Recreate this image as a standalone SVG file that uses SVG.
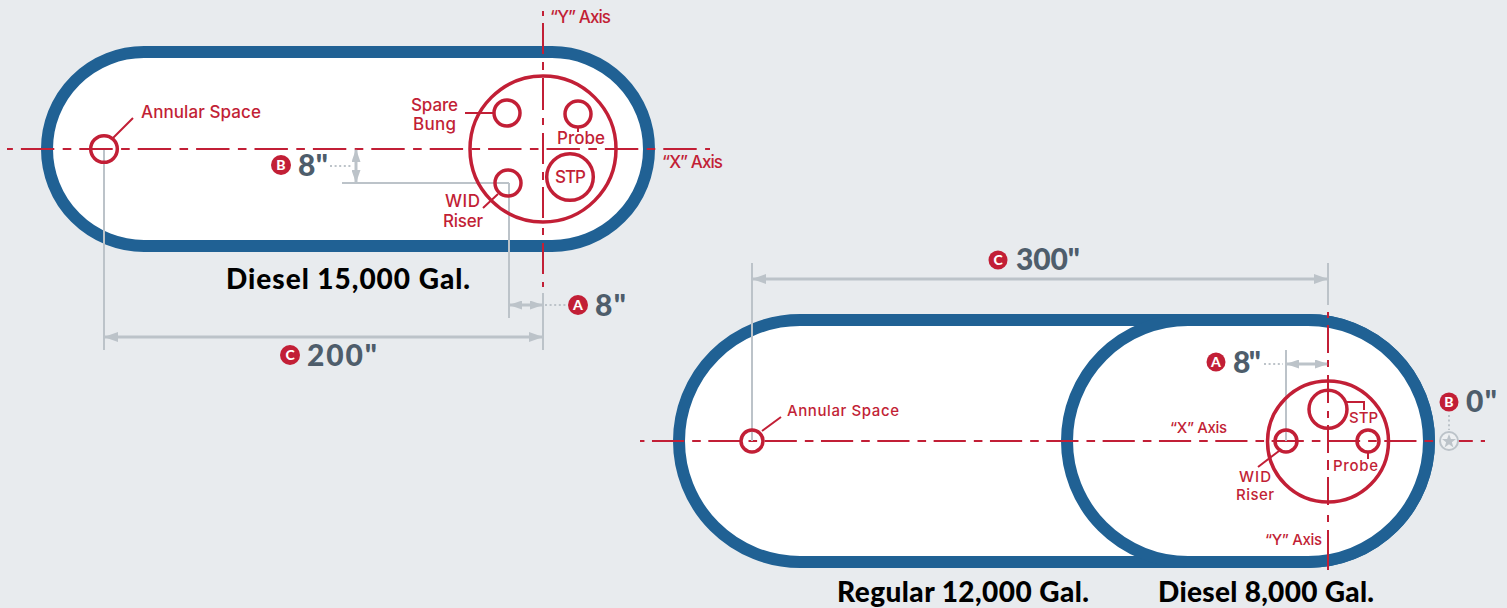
<svg xmlns="http://www.w3.org/2000/svg" width="1507" height="608" viewBox="0 0 1507 608">
<defs>
<style>
.tank{fill:#fff;stroke:#206194;stroke-width:12}
.ring{fill:none;stroke:#c21f36;stroke-width:3.5}
.axis{fill:none;stroke:#c21f36;stroke-width:2}
.lead{fill:none;stroke:#c21f36;stroke-width:2}
.dim{fill:none;stroke:#bcc3c9;stroke-width:2}
.arr{fill:none;stroke:#bcc3c9;stroke-width:3}
.dot{fill:none;stroke:#bcc3c9;stroke-width:2;stroke-dasharray:2 2.6}
.lab{font-family:"Inter","Liberation Sans",sans-serif;fill:#c21f36;font-size:17px;font-weight:500}
.lab2{font-size:15px}
.val{font-family:"Lato","Liberation Sans",sans-serif;fill:#4e5d6b;font-size:30px;font-weight:900}
.ttl{font-family:"Lato","Liberation Sans",sans-serif;fill:#000;font-size:28px;font-weight:900}
.bdg{fill:#c21f36}
.bl{font-family:"Lato","Liberation Sans",sans-serif;fill:#fff;font-size:14px;font-weight:900;text-anchor:middle}
</style>
<marker id="ah" viewBox="0 0 14 10" refX="13" refY="5" markerWidth="14" markerHeight="10" markerUnits="userSpaceOnUse" orient="auto-start-reverse"><path d="M0 0L14 5L0 10Z" fill="#bcc3c9"/></marker>
<marker id="ahs" viewBox="0 0 13 9" refX="12" refY="4.5" markerWidth="13" markerHeight="9" markerUnits="userSpaceOnUse" orient="auto-start-reverse"><path d="M0 0L13 4.5L0 9Z" fill="#bcc3c9"/></marker>
</defs>
<rect width="1507" height="608" fill="#e8ebee"/>

<g id="tank-diesel-15000">
<rect class="tank" x="47" y="52" width="602" height="194" rx="97"/>
<text class="ttl" x="226" y="289" textLength="244" lengthAdjust="spacing">Diesel 15,000 Gal.</text>
</g>
<g id="tank-regular-12000">
<rect class="tank" x="679" y="320" width="750" height="242" rx="121"/>
<text class="ttl" x="837" y="602" textLength="252" lengthAdjust="spacing">Regular 12,000 Gal.</text>
</g>
<g id="tank-diesel-8000">
<rect class="tank" x="1067" y="320" width="362" height="242" rx="121"/>
<text class="ttl" x="1158" y="602" textLength="216" lengthAdjust="spacing">Diesel 8,000 Gal.</text>
</g>

<g id="connectors">
<path class="axis" d="M7 149H710" stroke-dasharray="33.4 8.4 8.6 8" stroke-dashoffset="44.5"/>
<path class="axis" d="M543 11V16M543 23V54M543 62V70M543 78V110M543 118V125M543 133V164M543 172V180M543 187V218M543 228V235M543 243V274M543 282V287"/>
<path class="axis" d="M640 441H1485" stroke-dasharray="32.2 8 8.6 7.53" stroke-dashoffset="44.35"/>
<path class="axis" d="M1328 312V318M1328 325V353M1328 360V367M1328 375V403M1328 411V418M1328 425V453M1328 460V470M1328 477V505M1328 515V522M1328 530V570"/>
<path class="lead" d="M113 138L133 118M465 113H494M578 127V132M498 194L483 208"/>
<path class="lead" d="M762 431L781 417M1347 402H1364V410M1368 453V459M1279 451L1258 467"/>
<path class="dim" d="M104 150V350M543 293V350M509 183V318M342 183H509M752 263V441M1328 263V305M1286 350V441"/>
<path class="arr" d="M105 337H542" marker-start="url(#ah)" marker-end="url(#ah)"/>
<path class="arr" d="M753 279H1327" marker-start="url(#ah)" marker-end="url(#ah)"/>
<path class="arr" d="M510 305H542" marker-start="url(#ahs)" marker-end="url(#ahs)"/>
<path class="arr" d="M356 150V182" marker-start="url(#ahs)" marker-end="url(#ahs)"/>
<path class="arr" d="M1287 364H1327" marker-start="url(#ahs)" marker-end="url(#ahs)"/>
<path class="dot" d="M545 305H566M330 166H351M1264 364H1283M1449 415V430"/>
</g>

<g id="fittings-1">
<circle class="ring" cx="543" cy="149" r="73"/>
<circle class="ring" cx="507" cy="113" r="13"/>
<circle class="ring" cx="578" cy="114" r="13"/>
<circle class="ring" cx="570" cy="177" r="23.3"/>
<circle class="ring" cx="508" cy="183" r="13"/>
<circle class="ring" cx="104" cy="149" r="13.3"/>
</g>
<g id="fittings-2">
<circle class="ring" cx="1328" cy="441.5" r="60.5"/>
<circle class="ring" cx="1328" cy="409.3" r="19"/>
<circle class="ring" cx="1286" cy="441" r="11"/>
<circle class="ring" cx="1368" cy="441" r="11"/>
<circle class="ring" cx="752" cy="441" r="11"/>
</g>

<g id="labels-1">
<text class="lab" x="141" y="118" textLength="120" lengthAdjust="spacing">Annular Space</text>
<text class="lab" x="550" y="23" textLength="61" lengthAdjust="spacing">“Y” Axis</text>
<text class="lab" x="662" y="168" textLength="61" lengthAdjust="spacing">“X” Axis</text>
<text class="lab" x="411" y="111" textLength="47" lengthAdjust="spacing">Spare</text>
<text class="lab" x="413" y="130" textLength="43" lengthAdjust="spacing">Bung</text>
<text class="lab" x="557" y="144" textLength="48" lengthAdjust="spacing">Probe</text>
<text class="lab" x="555" y="183" textLength="31" lengthAdjust="spacing">STP</text>
<text class="lab" x="445" y="207" textLength="35" lengthAdjust="spacing">WID</text>
<text class="lab" x="443" y="227" textLength="40" lengthAdjust="spacing">Riser</text>
</g>
<g id="labels-2">
<text class="lab lab2" x="787" y="416" textLength="112" lengthAdjust="spacing">Annular Space</text>
<text class="lab lab2" x="1170" y="432.5" textLength="57" lengthAdjust="spacing">“X” Axis</text>
<text class="lab lab2" x="1265" y="545" textLength="57" lengthAdjust="spacing">“Y” Axis</text>
<text class="lab lab2" x="1349" y="423" textLength="29" lengthAdjust="spacing">STP</text>
<text class="lab lab2" x="1333" y="471" textLength="45" lengthAdjust="spacing">Probe</text>
<text class="lab lab2" x="1239" y="482" textLength="32" lengthAdjust="spacing">WID</text>
<text class="lab lab2" x="1236" y="500" textLength="38" lengthAdjust="spacing">Riser</text>
</g>

<g id="dim-A-1"><circle class="bdg" cx="578" cy="305" r="10"/><text class="bl" x="578" y="310">A</text><text class="val" x="595" y="316" textLength="31" lengthAdjust="spacing">8"</text></g>
<g id="dim-B-1"><circle class="bdg" cx="281" cy="165" r="10"/><text class="bl" x="281" y="170">B</text><text class="val" x="298" y="176" textLength="30" lengthAdjust="spacing">8"</text></g>
<g id="dim-C-1"><circle class="bdg" cx="290" cy="355" r="10"/><text class="bl" x="290" y="360">C</text><text class="val" x="307" y="366" textLength="70" lengthAdjust="spacing">200"</text></g>
<g id="dim-A-2"><circle class="bdg" cx="1216" cy="362" r="9.5"/><text class="bl" x="1216" y="367">A</text><text class="val" x="1233" y="373" textLength="28" lengthAdjust="spacing">8"</text></g>
<g id="dim-B-2"><circle class="bdg" cx="1449" cy="402" r="9.5"/><text class="bl" x="1449" y="407">B</text><text class="val" x="1466" y="412" textLength="31" lengthAdjust="spacing">0"</text></g>
<g id="dim-C-2"><circle class="bdg" cx="998" cy="260" r="9.5"/><text class="bl" x="998" y="265">C</text><text class="val" x="1016" y="270" textLength="64" lengthAdjust="spacing">300"</text></g>
<g id="datum-star"><circle cx="1449" cy="441" r="9" fill="#eef0f2" stroke="#bcc3c9" stroke-width="2"/><path d="M1449 434L1450.9 439H1456L1451.9 442.2L1453.4 447.4L1449 444.3L1444.6 447.4L1446.1 442.2L1442 439H1447.1Z" fill="#bcc3c9"/></g>
</svg>
